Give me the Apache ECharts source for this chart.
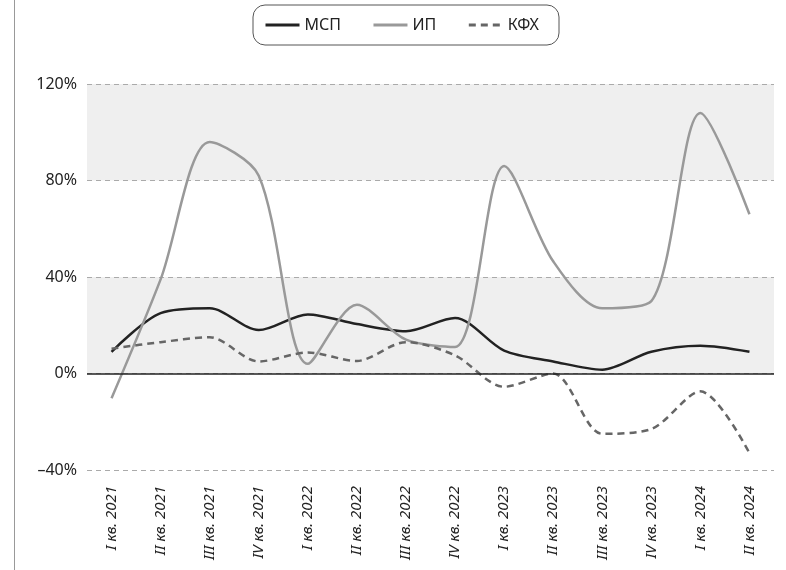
<!DOCTYPE html>
<html>
<head>
<meta charset="utf-8">
<script src="https://cdn.jsdelivr.net/npm/echarts@6/dist/echarts.min.js"></script>
<style>
  html, body { margin: 0; padding: 0; background: #fff; }
  #chart { width: 786px; height: 570px; }
</style>
</head>
<body>
<div id="chart"></div>
<script>
// ---- данные (прирост, %) ----
const quarters = [
  'I кв. 2021', 'II кв. 2021', 'III кв. 2021', 'IV кв. 2021',
  'I кв. 2022', 'II кв. 2022', 'III кв. 2022', 'IV кв. 2022',
  'I кв. 2023', 'II кв. 2023', 'III кв. 2023', 'IV кв. 2023',
  'I кв. 2024', 'II кв. 2024'
];
const msp = [9, 25, 27, 18, 24.5, 20.5, 17.5, 23, 9.5, 5, 1.6, 9, 11.5, 9];
const ip  = [-10.3, 39, 96, 82, 4, 28.5, 14, 11, 86, 46.5, 27, 30, 108, 66];
const kfh = [10.3, 13, 15, 5, 8.7, 5.2, 13, 7.5, -5.5, 0, -25, -23, -7.4, -33];
const yTicks = [-40, 0, 40, 80, 120];

const FONT = '"Noto Sans", "Open Sans", sans-serif';
const chart = echarts.init(document.getElementById('chart'), null, { renderer: 'canvas' });

const lineSeries = (name, data, color, type) => ({
  name, type: 'line', data, smooth: 0.3, symbol: 'none',
  lineStyle: { color, width: 2.5, type: type || 'solid' },
  itemStyle: { color },
});

chart.setOption({
  animation: false,
  textStyle: { fontFamily: FONT },
  legend: {
    top: 5, left: 253,
    data: ['МСП', 'ИП', 'КФХ'],
    itemWidth: 34, itemHeight: 14, itemGap: 31,
    padding: [12, 20, 12, 11],
    borderColor: '#555', borderWidth: 1, borderRadius: 12,
    itemStyle: { opacity: 0 },
    lineStyle: { width: 3 },
    textStyle: { fontSize: 16, color: '#222', fontFamily: FONT },
  },
  grid: { left: 87, right: 12, top: 84, bottom: 100 },
  xAxis: {
    type: 'category', data: quarters, boundaryGap: true,
    axisLine: { show: false }, axisTick: { show: false },
    axisLabel: {
      rotate: 90, margin: 16, interval: 0,
      fontSize: 15, fontStyle: 'italic', color: '#222', fontFamily: FONT,
    },
  },
  yAxis: {
    type: 'value', min: yTicks[0], max: yTicks[yTicks.length - 1], interval: 40,
    axisLine: { show: false }, axisTick: { show: false },
    axisLabel: {
      margin: 10, fontSize: 16, color: '#222', fontFamily: FONT,
      formatter: (v) => (v < 0 ? '–' + Math.abs(v) : v) + '%',
    },
    splitLine: { lineStyle: { color: '#aaa', width: 1, type: [5, 4] } },
    splitArea: { show: true, areaStyle: { color: ['rgba(0,0,0,0)', '#efefef'] } },
  },
  graphic: [{
    type: 'line', silent: true,
    shape: { x1: 14.5, y1: 0, x2: 14.5, y2: 570 },
    style: { stroke: '#999', lineWidth: 1 },
  }],
  series: [
    Object.assign(lineSeries('МСП', msp, '#222'), {
      markLine: {
        silent: true, symbol: 'none', label: { show: false },
        lineStyle: { color: '#222', width: 1.5, type: 'solid' },
        data: [{ yAxis: 0 }],
      },
    }),
    lineSeries('ИП', ip, '#999'),
    lineSeries('КФХ', kfh, '#666', [7, 5]),
  ],
});
</script>
</body>
</html>
